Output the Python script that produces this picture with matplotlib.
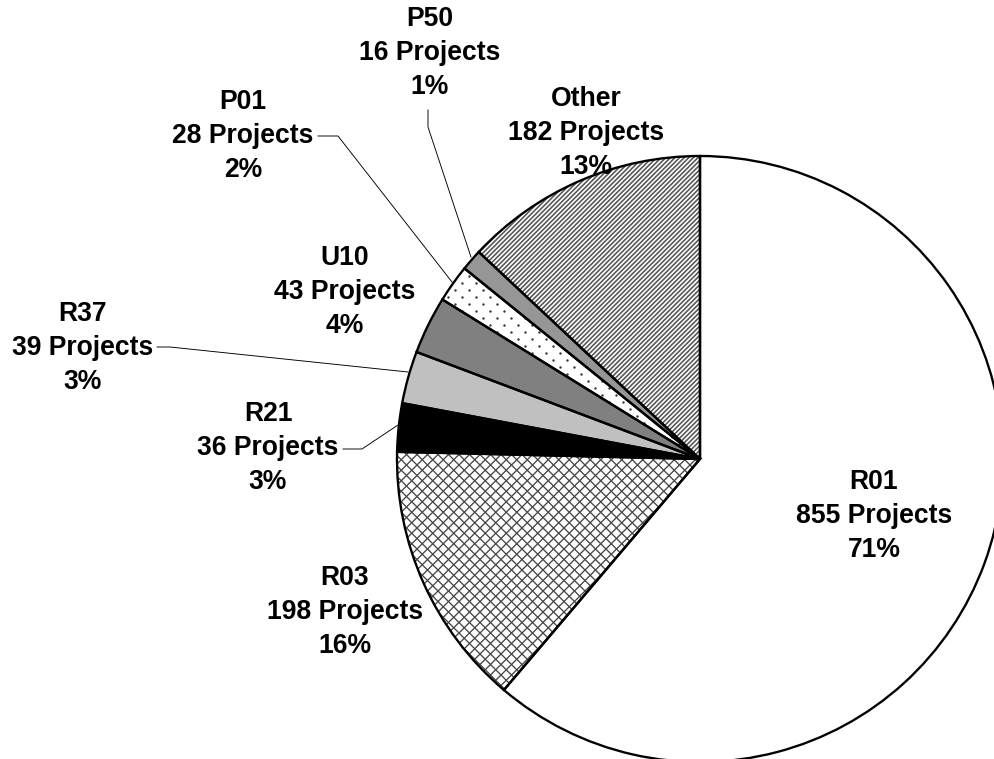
import matplotlib.pyplot as plt
import matplotlib as mpl
from matplotlib.collections import LineCollection
import numpy as np

# datos del grafico
grants   = ['R01', 'R03', 'R21', 'R37', 'U10', 'P01', 'P50', 'Other']
projects = [855, 198, 36, 39, 43, 28, 16, 182]
percent  = ['71%', '16%', '3%', '3%', '4%', '2%', '1%', '13%']

fills = ['white', 'white', 'black', '#c0c0c0', '#808080', 'white', '#969696', 'white']
# trama de cada porcion: None, 'cruz', 'puntos', 'diag'
tramas = [None, 'cruz', None, None, None, 'puntos', None, 'diag']

W, H = 994, 759
DPI = 60
PT = 72. / DPI               # pixeles -> puntos
mpl.rcParams['font.family'] = ['Liberation Sans', 'DejaVu Sans']

fig = plt.figure(figsize=(W / DPI, H / DPI), dpi=DPI)
ax = fig.add_axes([0, 0, 1, 1])

cx, cy, R = 700, H - 459, 303

wedges, _ = ax.pie(projects, startangle=90, counterclock=False,
                   center=(cx, cy), radius=R, colors=fills,
                   wedgeprops=dict(linewidth=0))


def lineas(wedge, pendiente, paso, color, lw):
    # lineas a +-45 grados, recortadas a la porcion
    segs = []
    for c in np.arange(-H, W + H, paso):
        segs.append([(c, 0), (c + pendiente * H, H)])
    lc = LineCollection(segs, colors=color, linewidths=lw * PT, zorder=2)
    ax.add_collection(lc)
    lc.set_clip_path(wedge)


def puntos(wedge, paso, color, tam):
    xs, ys = [], []
    for j, y in enumerate(np.arange(0, H, paso / 2.)):
        off = (paso / 2.) * (j % 2)
        for x in np.arange(off, W, paso):
            xs.append(x)
            ys.append(y)
    sc = ax.scatter(xs, ys, s=(tam * PT) ** 2, color=color, linewidths=0, zorder=2)
    sc.set_clip_path(wedge)


for w, t in zip(wedges, tramas):
    if t == 'cruz':
        lineas(w, 1, 10.5, '#444444', 1.3)
        lineas(w, -1, 10.5, '#444444', 1.3)
    elif t == 'diag':
        lineas(w, 1, 4.6, '#555555', 1.6)
    elif t == 'puntos':
        puntos(w, 14, '#333333', 2.4)

# contorno negro encima
ax.pie(projects, startangle=90, counterclock=False, center=(cx, cy), radius=R,
       wedgeprops=dict(fill=False, linewidth=2.8, edgecolor='black', zorder=3))

# posiciones de las etiquetas (pixeles)
lab_xy = {'R01': (874, 516), 'R03': (345, 612), 'R21': (268, 448),
          'R37': (83, 348), 'U10': (345, 292), 'P01': (243, 136),
          'P50': (430, 53), 'Other': (586, 133)}

for g, n, p in zip(grants, projects, percent):
    x, y = lab_xy[g]
    ax.text(x, H - y, f'{g}\n{n} Projects\n{p}', ha='center', va='center',
            fontsize=31.8, fontweight='bold', linespacing=1.42, zorder=4)

# lineas guia
guias = [[(428, 110), (428, 127), (471, 257)],
         [(318, 136), (338, 136), (452, 282)],
         [(157, 347), (170, 347), (408, 372)],
         [(343, 449), (362, 449), (398, 425)]]
for g in guias:
    ax.plot([q[0] for q in g], [H - q[1] for q in g], color='black', lw=1.1, zorder=4)

ax.set_xlim(0, W)
ax.set_ylim(0, H)
ax.set_aspect('equal')
ax.axis('off')

fig.savefig('out.png', dpi=DPI, facecolor='white')
